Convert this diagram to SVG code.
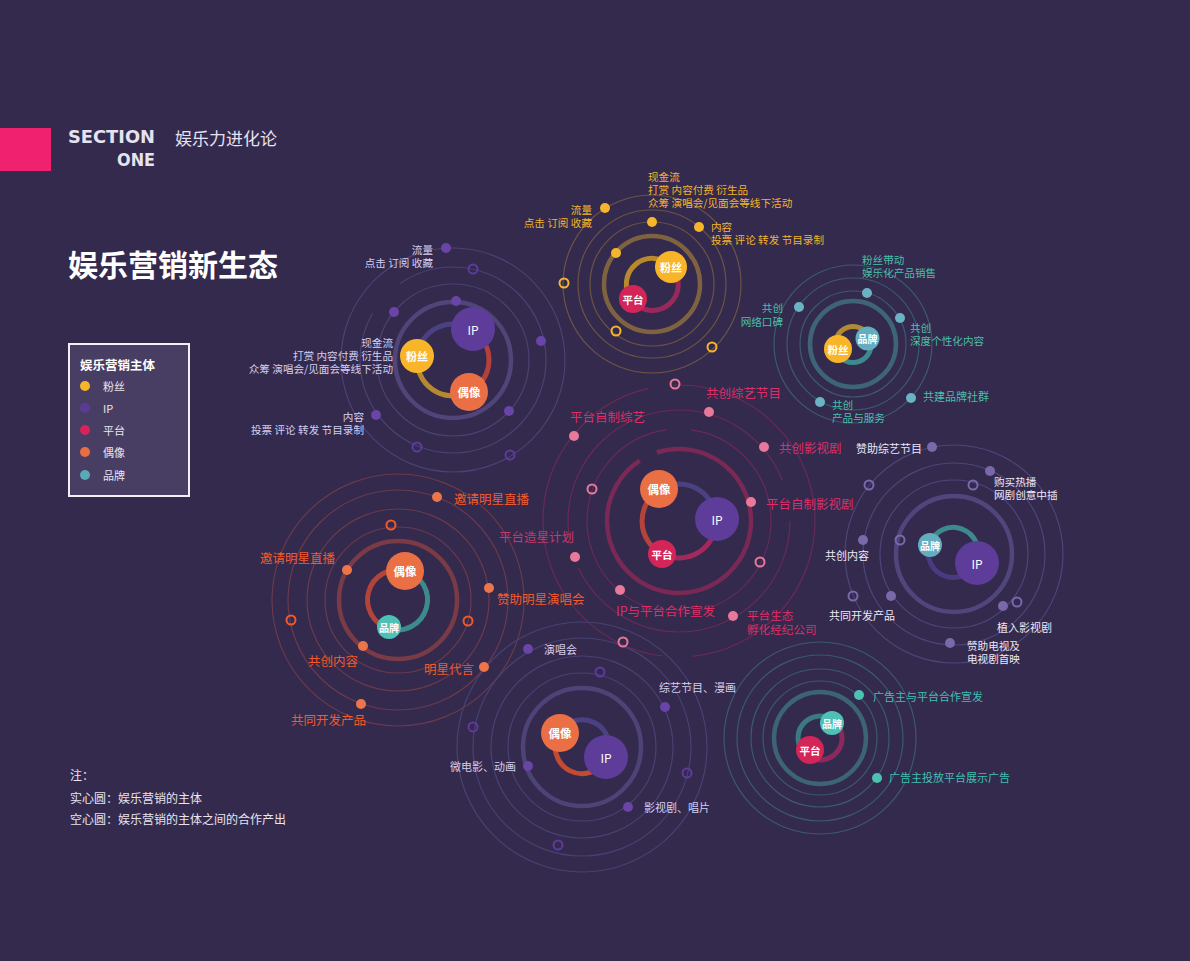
<svg xmlns="http://www.w3.org/2000/svg" width="1190" height="961" viewBox="0 0 1190 961">
<style>
text{font-family:"Noto Sans CJK SC","Noto Sans",sans-serif;dominant-baseline:central;}
.sec{font-family:"DejaVu Sans",sans-serif;font-weight:700;font-size:17px;fill:#e6e2ef;dominant-baseline:alphabetic;}
.s11{font-size:11px;}
.m{font-size:10.6px;}
.s12{font-size:12.5px;}
.e{text-anchor:end;}
.nt{fill:#fff;font-weight:700;text-anchor:middle;font-size:11px;}
.ring{fill:none;stroke-width:1.2;}
.thick{fill:none;stroke-width:4.5;}
.arc{fill:none;stroke-width:5;}
.hol{fill:none;stroke-width:2;}
.cA{fill:#f4b42a;} .cB{fill:#d6cff0;} .cC{fill:#4dbfa9;} .cD{fill:#dd2f66;}
.cE{fill:#ece8f6;} .cF{fill:#f25a2b;} .cG{fill:#d6cff0;} .cH{fill:#40c0b0;}
.note{fill:#e8e4f0;font-size:12px;}
</style>
<rect width="1190" height="961" fill="#332a4e"/>

<g id="header">
<rect x="0" y="128" width="51" height="43" fill="#f0226f"/>
<text class="sec" x="68" y="143" textLength="87" lengthAdjust="spacingAndGlyphs">SECTION</text>
<text class="sec" x="117" y="166" textLength="38" lengthAdjust="spacingAndGlyphs">ONE</text>
<text x="175" y="137" fill="#e6e2ef" style="font-size:17px">娱乐力进化论</text>
<text x="68" y="263" style="font-size:30px;font-weight:700" fill="#ffffff">娱乐营销新生态</text>
</g>

<g id="legend">
<rect x="69" y="344" width="120" height="152" fill="#483e64" stroke="#f2f0f6" stroke-width="2"/>
<text x="80" y="364" style="font-size:12.5px;font-weight:700" fill="#ffffff">娱乐营销主体</text>
<circle cx="85" cy="386" r="5" fill="#f8b52a"/><text class="s11" x="103" y="386" fill="#e8e4f0">粉丝</text>
<circle cx="85" cy="408" r="5" fill="#5c3b98"/><text class="s11" x="103" y="408" fill="#e8e4f0">IP</text>
<circle cx="85" cy="430" r="5" fill="#d6245a"/><text class="s11" x="103" y="430" fill="#e8e4f0">平台</text>
<circle cx="85" cy="452" r="5" fill="#ea6e44"/><text class="s11" x="103" y="452" fill="#e8e4f0">偶像</text>
<circle cx="85" cy="475" r="5" fill="#5aa9b9"/><text class="s11" x="103" y="475" fill="#e8e4f0">品牌</text>
</g>

<g id="note">
<text class="note" x="70" y="774">注：</text>
<text class="note" x="70" y="797">实心圆：娱乐营销的主体</text>
<text class="note" x="70" y="818">空心圆：娱乐营销的主体之间的合作产出</text>
</g>

<g id="rings">
<g transform="translate(652,284)">
<circle r="48" class="thick" stroke="#7f6340" stroke-width="5"/>
<circle r="62" class="ring" stroke="#6c5444"/>
<circle r="74" class="ring" stroke="#6c5444"/>
<circle r="89" class="ring" stroke="#6c5444"/>
</g>
<g transform="translate(453,360)">
<circle r="58" class="thick" stroke="#4f4578" stroke-width="4"/>
<circle r="76" class="ring" stroke="#4b4272"/>
<circle r="93" class="ring" stroke="#4b4272" stroke-dasharray="340.6 40.8 202.6"/>
<circle r="112" class="ring" stroke="#4b4272"/>
</g>
<g transform="translate(853,344)">
<circle r="43" class="thick" stroke="#3e6577"/>
<circle r="53" class="ring" stroke="#3b5a6f"/>
<circle r="66" class="ring" stroke="#3b5a6f"/>
<circle r="79" class="ring" stroke="#3b5a6f"/>
</g>
<g transform="translate(679,521)">
<path d="M-22.2,-68.5 A72,72 0 1 1 -39.2,-60.4" class="thick" stroke="#7a2955" stroke-width="4"/>
<circle r="92" class="ring" stroke="#6a2a56" stroke-dasharray="420 25 133"/>
<circle r="111" class="ring" stroke="#6a2a56" stroke-dasharray="300 25 330 42.4"/>
<circle r="136" class="ring" stroke="#6a2a56" stroke-dasharray="200 30 380 25 219.5"/>
</g>
<g transform="translate(954,554)">
<circle r="58" class="thick" stroke="#51467c" stroke-width="4"/>
<circle r="74" class="ring" stroke="#4f4578"/>
<circle r="91" class="ring" stroke="#4f4578"/>
<circle r="109" class="ring" stroke="#4f4578"/>
</g>
<g transform="translate(398,600)">
<circle r="59" class="thick" stroke="#7a3b47" stroke-width="5"/>
<circle r="73" class="ring" stroke="#6b3a4c"/>
<circle r="91" class="ring" stroke="#6b3a4c"/>
<circle r="110" class="ring" stroke="#6b3a4c"/>
<circle r="126" class="ring" stroke="#6b3a4c"/>
</g>
<g transform="translate(582,747)">
<circle r="59" class="thick" stroke="#4d4377" stroke-width="4"/>
<circle r="74" class="ring" stroke="#4a4172"/>
<circle r="91" class="ring" stroke="#4a4172"/>
<circle r="109" class="ring" stroke="#4a4172"/>
<circle r="125" class="ring" stroke="#4a4172"/>
</g>
<g transform="translate(820,738)">
<circle r="46" class="thick" stroke="#3c6473"/>
<circle r="57" class="ring" stroke="#3b5a6c"/>
<circle r="69" class="ring" stroke="#3b5a6c"/>
<circle r="83" class="ring" stroke="#3b5a6c"/>
<circle r="96" class="ring" stroke="#3b5a6c"/>
</g>
</g>

<g id="outputs-A">
<g fill="#f7b52b"><circle cx="605" cy="208" r="5"/><circle cx="652" cy="222" r="5"/><circle cx="699" cy="227" r="5"/><circle cx="616" cy="253" r="5"/></g>
<g class="hol" stroke="#f7b52b"><circle cx="564" cy="283" r="4.5"/><circle cx="616" cy="331" r="4.5"/><circle cx="712" cy="347" r="4.5"/></g>
<text class="m cA" x="648" y="176">现金流<tspan x="648" dy="13">打赏 内容付费 衍生品</tspan><tspan x="648" dy="13">众筹 演唱会/见面会等线下活动</tspan></text>
<text class="m cA e" x="592" y="209">流量<tspan x="592" dy="13">点击 订阅 收藏</tspan></text>
<text class="m cA" x="711" y="226">内容<tspan x="711" dy="13">投票 评论 转发 节目录制</tspan></text>
</g>

<g id="outputs-B">
<g fill="#6a44a6"><circle cx="446" cy="248" r="5"/><circle cx="456" cy="301" r="5"/><circle cx="394" cy="312" r="5"/><circle cx="541" cy="341" r="5"/><circle cx="509" cy="411" r="5"/><circle cx="376" cy="415" r="5"/></g>
<g class="hol" stroke="#5e3a9c"><circle cx="473" cy="269" r="4.5"/><circle cx="417" cy="447" r="4.5"/><circle cx="510" cy="455" r="4.5"/></g>
<text class="m cB e" x="433" y="249">流量<tspan x="433" dy="13">点击 订阅 收藏</tspan></text>
<text class="m cB e" x="393" y="342">现金流<tspan x="393" dy="13">打赏 内容付费 衍生品</tspan><tspan x="393" dy="13">众筹 演唱会/见面会等线下活动</tspan></text>
<text class="m cB e" x="364" y="416">内容<tspan x="364" dy="13">投票 评论 转发 节目录制</tspan></text>
</g>

<g id="outputs-C">
<g fill="#6bb3c2"><circle cx="867" cy="293" r="5"/><circle cx="799" cy="307" r="5"/><circle cx="900" cy="318" r="5"/><circle cx="820" cy="402" r="5"/><circle cx="911" cy="398" r="5"/></g>
<text class="m cC" x="862" y="259">粉丝带动<tspan x="862" dy="13">娱乐化产品销售</tspan></text>
<text class="m cC e" x="783" y="307">共创<tspan x="783" dy="14">网络口碑</tspan></text>
<text class="m cC" x="910" y="327">共创<tspan x="910" dy="13">深度个性化内容</tspan></text>
<text class="m cC" x="832" y="404">共创<tspan x="832" dy="13">产品与服务</tspan></text>
<text class="s11 cC" x="923" y="396">共建品牌社群</text>
</g>

<g id="outputs-D">
<g fill="#e9799b"><circle cx="709" cy="412" r="5"/><circle cx="574" cy="436" r="5"/><circle cx="764" cy="447" r="5"/><circle cx="751" cy="502" r="5"/><circle cx="575" cy="557" r="5"/><circle cx="620" cy="590" r="5"/><circle cx="733" cy="616" r="5"/></g>
<g class="hol" stroke="#e9799b"><circle cx="675" cy="384" r="4.5"/><circle cx="592" cy="489" r="4.5"/><circle cx="760" cy="562" r="4.5"/><circle cx="623" cy="642" r="4.5"/></g>
<text class="s12 cD" x="706" y="392">共创综艺节目</text>
<text class="s12 cD" x="570" y="416">平台自制综艺</text>
<text class="s12 cD" x="779" y="447">共创影视剧</text>
<text class="s12 cD" x="766" y="503">平台自制影视剧</text>
<text class="s12" x="499" y="536" fill="#c03c6c">平台造星计划</text>
<text class="s12 cD" x="616" y="610">IP与平台合作宣发</text>
<text class="cD" x="747" y="614.5" style="font-size:11.6px">平台生态<tspan x="747" dy="14.5">孵化经纪公司</tspan></text>
</g>

<g id="outputs-E">
<g fill="#7a68aa"><circle cx="932" cy="447" r="5"/><circle cx="990" cy="471" r="5"/><circle cx="863" cy="540" r="5"/><circle cx="891" cy="596" r="5"/><circle cx="1003" cy="606" r="5"/><circle cx="950" cy="643" r="5"/></g>
<g class="hol" stroke="#7a68aa"><circle cx="869" cy="485" r="4.5"/><circle cx="973" cy="485" r="4.5"/><circle cx="900" cy="540" r="4.5"/><circle cx="853" cy="596" r="4.5"/><circle cx="1017" cy="602" r="4.5"/></g>
<text class="s11 cE e" x="922" y="448">赞助综艺节目</text>
<text class="m cE" x="994" y="481">购买热播<tspan x="994" dy="13">网剧创意中插</tspan></text>
<text class="s11 cE e" x="869" y="555">共创内容</text>
<text class="s11 cE" x="829" y="615">共同开发产品</text>
<text class="s11 cE" x="997" y="627">植入影视剧</text>
<text class="m cE" x="967" y="645">赞助电视及<tspan x="967" dy="13">电视剧首映</tspan></text>
</g>

<g id="outputs-F">
<g fill="#ec7649"><circle cx="437" cy="497" r="5"/><circle cx="347" cy="570" r="5"/><circle cx="489" cy="588" r="5"/><circle cx="363" cy="646" r="5"/><circle cx="484" cy="667" r="5"/><circle cx="361" cy="704" r="5"/></g>
<g class="hol" stroke="#f05a2a"><circle cx="391" cy="525" r="4.5"/><circle cx="468" cy="621" r="4.5"/><circle cx="291" cy="620" r="4.5"/></g>
<text class="s12 cF" x="454" y="498">邀请明星直播</text>
<text class="s12 cF e" x="335" y="557">邀请明星直播</text>
<text class="s12 cF" x="497" y="598">赞助明星演唱会</text>
<text class="s12 cF" x="308" y="660">共创内容</text>
<text class="s12 cF e" x="474" y="668">明星代言</text>
<text class="s12 cF" x="291" y="719">共同开发产品</text>
</g>

<g id="outputs-G">
<g fill="#6a44a6"><circle cx="528" cy="649" r="5"/><circle cx="665" cy="707" r="5"/><circle cx="528" cy="766" r="5"/><circle cx="628" cy="807" r="5"/></g>
<g class="hol" stroke="#5e3a9c"><circle cx="600" cy="672" r="4.5"/><circle cx="473" cy="727" r="4.5"/><circle cx="687" cy="773" r="4.5"/><circle cx="558" cy="845" r="4.5"/></g>
<text class="s11 cG" x="544" y="649">演唱会</text>
<text class="s11 cG" x="659" y="687">综艺节目、漫画</text>
<text class="s11 cG e" x="516" y="766">微电影、动画</text>
<text class="s11 cG" x="644" y="807">影视剧、唱片</text>
</g>

<g id="outputs-H">
<g fill="#4cc2b2"><circle cx="859" cy="695" r="5"/><circle cx="877" cy="778" r="5"/></g>
<text class="s11 cH" x="873" y="696">广告主与平台合作宣发</text>
<text class="s11 cH" x="889" y="777">广告主投放平台展示广告</text>
</g>

<g id="connectors">
<path class="arc" d="M631.7,300.2 A26,26 0 0 1 671.4,266.7" stroke="#b98a2d"/>
<path class="arc" d="M671.4,266.7 A26,26 0 1 1 631.7,300.2" stroke="#972a5a"/>
<path class="arc" d="M417.3,355.7 A36,36 0 0 1 472.3,329.6" stroke="#4a4180"/>
<path class="arc" d="M472.3,329.6 A36,36 0 0 1 469.2,392.1" stroke="#b4403c"/>
<path class="arc" d="M469.2,392.1 A36,36 0 0 1 417.3,355.7" stroke="#b58a2e"/>
<path class="arc" d="M836,349.8 A18,18 0 0 1 869.7,337.3" stroke="#b08a34" stroke-width="4"/>
<path class="arc" d="M869.7,337.3 A18,18 0 1 1 836,349.8" stroke="#3c8a8c" stroke-width="4"/>
<path class="arc" d="M659.5,489.6 A37,37 0 0 1 716,519.3" stroke="#4a4180"/>
<path class="arc" d="M716,519.3 A37,37 0 0 1 661.9,553.8" stroke="#a3295c"/>
<path class="arc" d="M661.9,553.8 A37,37 0 0 1 659.5,489.6" stroke="#b4433c"/>
<path class="arc" d="M929.5,544.4 A25,25 0 1 1 976.1,562.4" stroke="#3c8a8c"/>
<path class="arc" d="M976.1,562.4 A25,25 0 0 1 929.5,544.4" stroke="#4a3a82"/>
<path class="arc" d="M388.7,628.5 A30,30 0 0 1 405.1,570.8" stroke="#b2443a"/>
<path class="arc" d="M405.1,570.8 A30,30 0 1 1 388.7,628.5" stroke="#3c8a8c"/>
<path class="arc" d="M559.1,732.7 A27,27 0 0 1 606.8,757.8" stroke="#4a4180" stroke-width="4.5"/>
<path class="arc" d="M606.8,757.8 A27,27 0 1 1 559.1,732.7" stroke="#c44a32" stroke-width="4.5"/>
<path class="arc" d="M805.9,754.9 A22,22 0 0 1 833.7,720.8" stroke="#3a7a80" stroke-width="4"/>
<path class="arc" d="M833.7,720.8 A22,22 0 1 1 805.9,754.9" stroke="#8a2a5c" stroke-width="4"/>
</g>

<g id="node-A-fans"><circle cx="671" cy="267" r="16" fill="#f9b52a"/><text class="nt" x="671" y="267">粉丝</text></g>
<g id="node-A-platform"><circle cx="633" cy="299" r="14" fill="#d42559"/><text class="nt" x="633" y="299" style="font-size:10.5px">平台</text></g>
<g id="node-B-ip"><circle cx="473" cy="329" r="22" fill="#5e3c9a"/><text class="nt" x="473" y="329" style="font-size:12px;font-weight:400">IP</text></g>
<g id="node-B-fans"><circle cx="417" cy="356" r="17" fill="#f9b52a"/><text class="nt" x="417" y="356">粉丝</text></g>
<g id="node-B-idol"><circle cx="469" cy="392" r="19" fill="#ea6f45"/><text class="nt" x="469" y="392" style="font-size:11.5px">偶像</text></g>
<g id="node-C-brand"><circle cx="867.5" cy="338.5" r="12" fill="#63adbf"/><text class="nt" x="867.5" y="338.5" style="font-size:10px">品牌</text></g>
<g id="node-C-fans"><circle cx="838" cy="349" r="14" fill="#f9b52a"/><text class="nt" x="838" y="349" style="font-size:10.5px">粉丝</text></g>
<g id="node-D-idol"><circle cx="659" cy="489" r="19" fill="#ea6f45"/><text class="nt" x="659" y="489" style="font-size:11.5px">偶像</text></g>
<g id="node-D-ip"><circle cx="717" cy="519" r="22" fill="#5e3c9a"/><text class="nt" x="717" y="519" style="font-size:12px;font-weight:400">IP</text></g>
<g id="node-D-platform"><circle cx="662" cy="554" r="14" fill="#d42559"/><text class="nt" x="662" y="554" style="font-size:10.5px">平台</text></g>
<g id="node-E-brand"><circle cx="930" cy="545" r="12" fill="#63adbf"/><text class="nt" x="930" y="545" style="font-size:10px">品牌</text></g>
<g id="node-E-ip"><circle cx="977" cy="563" r="22" fill="#5e3c9a"/><text class="nt" x="977" y="563" style="font-size:12px;font-weight:400">IP</text></g>
<g id="node-F-idol"><circle cx="405" cy="571" r="19" fill="#ea6f45"/><text class="nt" x="405" y="571" style="font-size:11.5px">偶像</text></g>
<g id="node-F-brand"><circle cx="389" cy="627" r="12" fill="#4fc0b6"/><text class="nt" x="389" y="627" style="font-size:10px">品牌</text></g>
<g id="node-G-idol"><circle cx="560" cy="733" r="19" fill="#ea6f45"/><text class="nt" x="560" y="733" style="font-size:11.5px">偶像</text></g>
<g id="node-G-ip"><circle cx="606" cy="757" r="22" fill="#5e3c9a"/><text class="nt" x="606" y="757" style="font-size:12px;font-weight:400">IP</text></g>
<g id="node-H-brand"><circle cx="832" cy="723" r="12" fill="#4fc0b4"/><text class="nt" x="832" y="723" style="font-size:10px">品牌</text></g>
<g id="node-H-platform"><circle cx="810" cy="750" r="14" fill="#d42559"/><text class="nt" x="810" y="750" style="font-size:10.5px">平台</text></g>
</svg>
